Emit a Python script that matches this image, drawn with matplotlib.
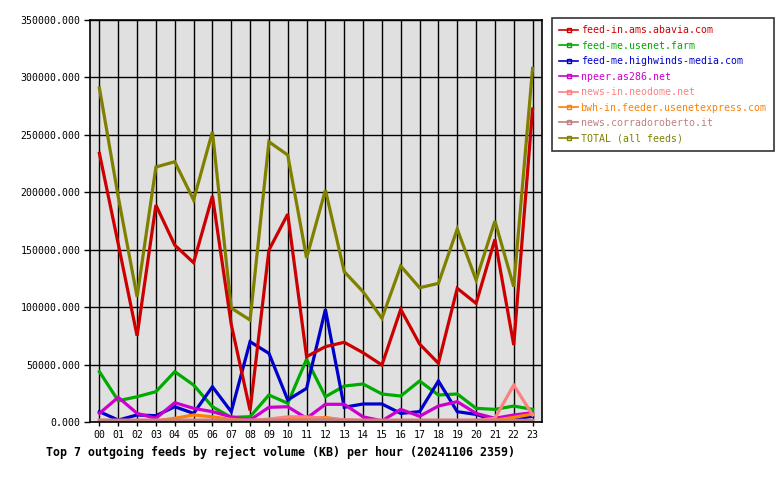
import matplotlib
matplotlib.use("Agg")
import matplotlib.pyplot as plt
from matplotlib.lines import Line2D
from matplotlib.ticker import FuncFormatter, MultipleLocator

hours = [f"{h:02d}" for h in range(24)]

feed_names = [
  "feed-in.ams.abavia.com",
  "feed-me.usenet.farm",
  "feed-me.highwinds-media.com",
  "npeer.as286.net",
  "news-in.neodome.net",
  "bwh-in.feeder.usenetexpress.com",
  "news.corradoroberto.it",
  "TOTAL (all feeds)",
]
feed_colors = ["#cc0000", "#00aa00", "#0000cc", "#cc00cc",
               "#ff8080", "#ff8000", "#c08080", "#808000"]

abavia = [233900, 155000, 75000, 188900, 154000, 138700, 196800, 85000,
          10000, 149700, 181000, 56900, 65600, 69400, 60300, 49600,
          98100, 67900, 51100, 116400, 103300, 159000, 67000, 272500]
usenet_farm = [43800, 18500, 22000, 26400, 43800, 32200, 13300, 4000,
               4600, 23500, 16300, 54600, 22000, 31300, 33100, 24400,
               22600, 35700, 23500, 24400, 11900, 11000, 13900, 11000]
highwinds = [9000, 1700, 6100, 5500, 13300, 7500, 30700, 9000,
             69900, 59800, 19200, 29300, 98100, 12800, 15700, 15700,
             7500, 9000, 35700, 9000, 6600, 1500, 2500, 5000]
npeer = [7500, 21500, 7500, 3200, 16800, 11900, 9000, 4500,
         1700, 12800, 13300, 3200, 15400, 15400, 4500, 1000,
         11000, 5000, 13900, 17700, 7500, 3200, 6100, 8100]
neodome = [1500, 1500, 1500, 1500, 1500, 1500, 1500, 1500,
           1500, 2500, 4500, 4500, 3000, 2000, 1500, 1500,
           1500, 1500, 1500, 1500, 1500, 3200, 32200, 6100]
usenetexpress = [500, 500, 500, 1000, 3200, 6100, 4500, 2300,
                 1000, 1000, 2000, 2500, 4000, 1500, 1000, 500,
                 500, 500, 500, 500, 1000, 1500, 4000, 6900]
corradoroberto = [1500, 1500, 1500, 1500, 1500, 1500, 1500, 1500,
                  1500, 1500, 1500, 1500, 2000, 1500, 1500, 1500,
                  1500, 1500, 1500, 1500, 1500, 1500, 1500, 1500]
total = [290800, 196000, 109000, 222000, 226600, 193300, 252700, 99200,
         88800, 244000, 232400, 142800, 202000, 130900, 113400, 90300,
         135800, 116900, 120700, 168000, 123600, 175000, 117800, 307900]

series = [abavia, usenet_farm, highwinds, npeer, neodome,
          usenetexpress, corradoroberto, total]

plt.rcParams['font.family'] = ['DejaVu Sans Mono']

fig = plt.figure(figsize=(7.8, 4.8), dpi=100)
ax = fig.add_axes([90 / 780, 58 / 480, 452 / 780, 402 / 480])
ax.set_facecolor("#e0e0e0")

x = list(range(len(hours)))
# total goes underneath, first feed ends on top like the original
draw_order = [7, 1, 2, 3, 5, 4, 6, 0]
for i in draw_order:
  ax.plot(x, series[i], color=feed_colors[i], linewidth=2.3, solid_joinstyle='miter')

ax.set_xlim(-0.5, 23.5)
ax.set_ylim(0, 350000)
ax.set_xticks(x)
ax.set_xticklabels(hours, fontsize=7.1)
ax.yaxis.set_major_locator(MultipleLocator(50000))
ax.yaxis.set_major_formatter(FuncFormatter(lambda v, p: f"{v:.3f}"))
ax.tick_params(axis='y', labelsize=7.1, length=4, width=1, direction='out', pad=3)
ax.tick_params(axis='x', length=3, width=1, direction='out', pad=3)
ax.grid(True, color='black', linewidth=1)
ax.set_axisbelow(True)
for sp in ax.spines.values():
  sp.set_linewidth(1.2)

fig.text(46 / 780, 1 - 452 / 480, "Top 7 outgoing feeds by reject volume (KB) per hour (20241106 2359)",
         fontsize=8.4, fontweight='bold', va='center', ha='left')

handles = [Line2D([0], [0], color=c, linewidth=1.2, marker='s', markersize=3,
                  markerfacecolor='none', markeredgecolor=c) for c in feed_colors]
leg = fig.legend(handles, feed_names, loc='upper left', bbox_to_anchor=(552 / 780, 1 - 18 / 480),
                 fontsize=7.1, frameon=True, fancybox=False, edgecolor='black',
                 handlelength=1.9, handletextpad=0.25, borderpad=0.75, labelspacing=0.55,
                 borderaxespad=0)
leg.get_frame().set_linewidth(1.2)
for txt, c in zip(leg.get_texts(), feed_colors):
  txt.set_color(c)

fig.savefig("out.png", dpi=100)
